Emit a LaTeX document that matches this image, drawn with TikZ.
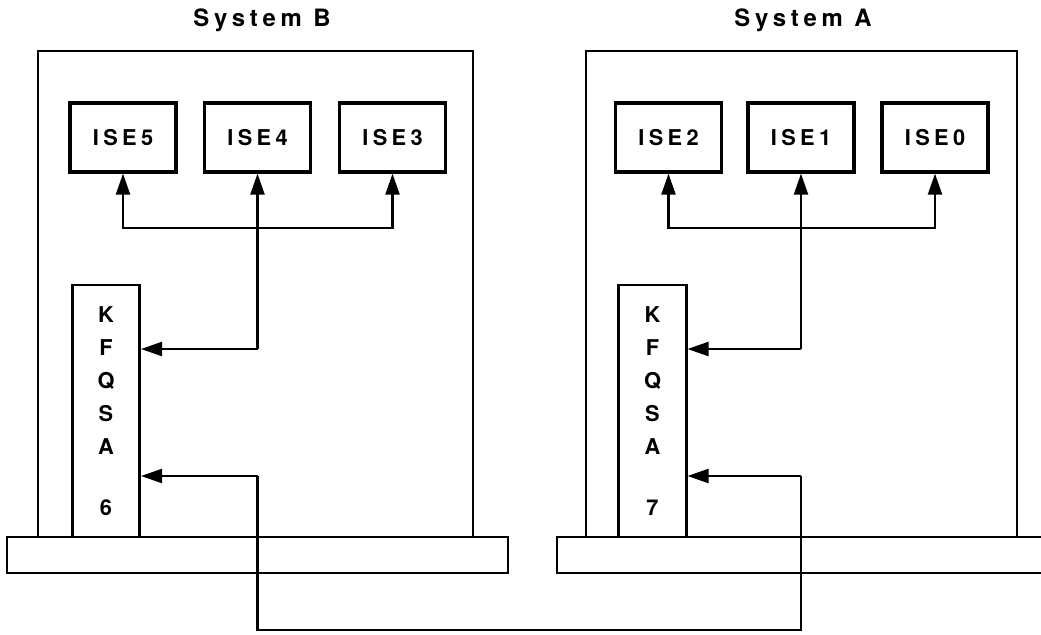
\documentclass[tikz,border=0pt]{standalone}
\usepackage{fontspec}
\setmainfont{TeX Gyre Heros}
\newfontfamily\lblfont[LetterSpace=20]{TeX Gyre Heros}
\usetikzlibrary{arrows.meta}

\tikzset{
	frame/.style={draw, line width=1.9pt},
	ise/.style={draw, line width=2.4pt, minimum width=2.65cm, minimum height=1.72cm,
		font=\lblfont\bfseries\fontsize{15.5}{18}\selectfont},
	kfqsa/.style={draw, line width=2pt, minimum width=1.68cm, minimum height=6.3cm,
		align=center, font=\bfseries\fontsize{15.5}{23.5}\selectfont},
	title/.style={font=\lblfont\bfseries\fontsize{17}{20}\selectfont},
	arr/.style={line width=1.6pt, -{Triangle[length=15pt,width=10pt]}},
	line/.style={line width=1.6pt}
}

\begin{document}
\begin{tikzpicture}[x=0.025cm, y=-0.025cm]
		\useasboundingbox (0,0) rectangle (1041,634);
		
		% system frames and bus bars
		\draw[frame] (38,51) rectangle (473,537);
		\draw[frame] (586,51) rectangle (1017,537);
		\draw[frame] (7,537) rectangle (508,573);
		\draw[frame] (557,537) rectangle (1060,573);
		
		\node[title] (titleB) at (262,20) {System B};
		\node[title] (titleA) at (803,20) {System A};
		
		% System B
		\node[ise] (ise5) at (123,137.5) {ISE5};
		\node[ise] (ise4) at (257.5,137.5) {ISE4};
		\node[ise] (ise3) at (392.5,137.5) {ISE3};
		\node[kfqsa] (kfqsaB) at (106,411) {K\\F\\Q\\S\\A\\[20pt]6};
		
		% System A
		\node[ise] (ise2) at (668.5,137.5) {ISE2};
		\node[ise] (ise1) at (801,137.5) {ISE1};
		\node[ise] (ise0) at (935,137.5) {ISE0};
		\node[kfqsa] (kfqsaA) at (652.5,411) {K\\F\\Q\\S\\A\\[20pt]7};
		
		\coordinate (busB) at (257.5,228);
		\coordinate (busA) at (801,228);
		\coordinate (cornB) at (257.5,349);
		\coordinate (cornA) at (801,349);
		
		\draw[arr] (cornB) -- (ise4.south);
		\draw[arr] (cornB) -- (cornB -| kfqsaB.east);
		\draw[arr] (busB) -| (ise5.south);
		\draw[arr] (busB) -| (ise3.south);
		
		\draw[arr] (cornA) -- (ise1.south);
		\draw[arr] (cornA) -- (cornA -| kfqsaA.east);
		\draw[arr] (busA) -| (ise2.south);
		\draw[arr] (busA) -| (ise0.south);
		
		% link between the two adapters
		\coordinate (loopB) at (257.5,476);
		\coordinate (loopA) at (801,476);
		\coordinate (lowB) at (257.5,630);
		\coordinate (lowA) at (801,630);
		\draw[arr] (loopB) -- (loopB -| kfqsaB.east);
		\draw[arr] (loopA) -- (loopA -| kfqsaA.east);
		\draw[line] (loopB) -- (lowB) -- (lowA) -- (loopA);
		\end{tikzpicture}
\end{document}
